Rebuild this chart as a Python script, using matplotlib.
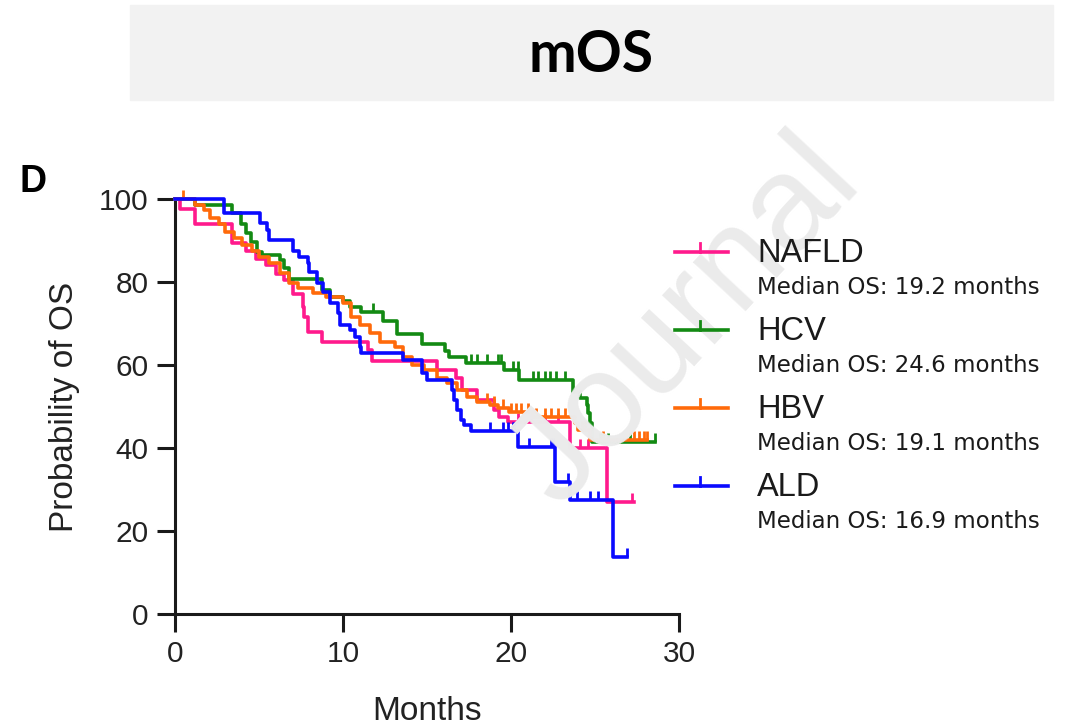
import numpy as np
import matplotlib
matplotlib.use('Agg')
import matplotlib.pyplot as plt
from matplotlib.patches import Rectangle
from matplotlib.lines import Line2D

# Kaplan-Meier step points (months, % surviving)
groups = ['NAFLD', 'HCV', 'HBV', 'ALD']
medians = ['19.2', '24.6', '19.1', '16.9']
colors = ['#FF1A8C', '#138A13', '#FF6A0A', '#0A0AFF']

nafld_t = [0, 0.3, 1.2, 3.4, 4.2, 4.8, 5.4, 6.0, 6.5, 7.0, 7.6, 7.7, 7.9, 8.75,
           11.5, 11.7, 15.6, 16.7, 17.1, 18.0, 19.0, 19.3, 19.8, 23.5, 25.7, 27.3]
nafld_s = [100, 97.5, 94, 89.5, 87.5, 85.5, 84, 82, 80.5, 77, 74, 71.6, 68, 65.5,
           63.6, 61, 58.8, 56.9, 54, 51.6, 49.2, 47.5, 46.3, 40, 27, 27]
nafld_c = [20.4, 21.2, 22.0, 22.8, 24.1, 24.6, 27.2]

hcv_t = [0, 1.2, 3.4, 3.9, 4.2, 4.5, 4.9, 5.2, 6.25, 6.5, 6.8, 8.75, 9.2, 10.0,
         10.4, 11.1, 12.4, 13.2, 14.7, 16.1, 16.3, 17.3, 19.6, 20.5, 23.7, 24.1,
         24.5, 24.6, 24.7, 24.8, 28.6]
hcv_s = [100, 98.5, 96.6, 94, 91.8, 89.6, 87.2, 86.5, 85.3, 83.4, 80.7, 78, 76.4,
         75.5, 74, 72.8, 70.5, 67.5, 65, 63.4, 62, 60.5, 58.8, 56.5, 53.5, 52,
         50.4, 48.5, 46, 41.5, 41.5]
hcv_c = [11.8, 17.6, 18.0, 18.6, 19.2, 19.4, 20.1, 20.4, 21.3, 21.6, 22.0, 22.3,
         22.7, 23.2, 25.3, 25.5, 25.8, 27.1, 28.6]

hbv_t = [0, 1.2, 1.7, 2.1, 2.6, 3.0, 3.5, 4.0, 4.6, 5.0, 5.6, 6.25, 6.8, 7.3, 8.2,
         9.0, 10.0, 10.5, 11.0, 11.6, 12.2, 13.1, 13.6, 14.1, 14.8, 15.6, 16.2,
         16.8, 17.4, 18.0, 18.75, 19.2, 19.9, 21.3, 23.8, 24.0, 24.7, 28.1]
hbv_s = [100, 98.5, 97.3, 95.5, 94, 92, 90.5, 89, 87.5, 86, 84.5, 82.2, 79.8,
         78.5, 77.3, 76.4, 74.9, 71.6, 69.6, 67.7, 65.5, 64.3, 62, 60, 58.8, 56.9,
         55.7, 54, 52.3, 51, 50.4, 49.6, 48.7, 47.5, 46, 44.3, 42, 42]
hbv_c = [0.5, 18.6, 19.0, 19.5, 20.0, 20.3, 20.6, 21.0, 21.5, 22.0, 22.4, 22.8,
         23.2, 24.2, 24.4, 25.5, 27.3, 27.6, 27.9, 28.1]

ald_t = [0, 2.9, 5.05, 5.5, 5.6, 7.0, 7.4, 7.9, 8.0, 8.45, 8.8, 9.2, 9.7, 9.8,
         10.4, 10.7, 11.0, 11.1, 13.6, 14.7, 15.0, 16.5, 16.6, 16.8, 17.0, 17.2,
         17.6, 20.4, 22.6, 23.5, 26.1, 26.9]
ald_s = [100, 96.6, 94.2, 92.5, 90.1, 87.5, 86, 84.6, 82.4, 79.8, 77.6, 74.9,
         72.5, 69.6, 68.4, 66.7, 64.3, 62.9, 61.2, 58, 56.4, 54, 51.6, 49.2, 46.7,
         45.5, 44, 40.2, 31.8, 27.5, 13.7, 13.7]
ald_c = [18.75, 19.5, 19.8, 20.1, 20.2, 21.1, 22.4, 22.5, 23.4, 23.9, 24.7, 25.2,
         26.9]

times = [nafld_t, hcv_t, hbv_t, ald_t]
survs = [nafld_s, hcv_s, hbv_s, ald_s]
cens = [nafld_c, hcv_c, hbv_c, ald_c]

fig = plt.figure(figsize=(10.73, 7.27), dpi=100)
W, H = 1073, 727

# grey title banner
fig.patches.append(Rectangle((130 / W, 1 - 100 / H), 923 / W, 95 / H,
                             transform=fig.transFigure, color='#F2F2F2', zorder=0))
fig.text(591.5 / W, 1 - 55 / H, 'mOS', ha='center', va='center',
         fontsize=41, fontweight='bold', family='Lato')
fig.text(20 / W, 1 - 182 / H, 'D', ha='left', va='center', fontsize=27,
         fontweight='bold', family='Liberation Sans')

# watermark
fig.text(686 / W, 1 - 322 / H, 'Journal', ha='center', va='center', rotation=47,
         fontsize=98, color='#EBEBEB', family='Liberation Sans', zorder=0)

ax = fig.add_axes([175 / W, 1 - 614 / H, 504 / W, 415 / H])
ax.patch.set_alpha(0)

for t, s, c, col in zip(times, survs, cens, colors):
    t = np.array(t)
    s = np.array(s)
    ax.step(t, s, where='post', color=col, lw=2.6, clip_on=False, zorder=3)
    c = np.array(c)
    idx = np.searchsorted(t, c, side='right') - 1
    ax.plot(c, s[idx], ls='none', marker=2, ms=6.5, mew=2.0, color=col,
            clip_on=False, zorder=3)

ax.set_xlim(0, 30)
ax.set_ylim(0, 100)
ax.set_xticks([0, 10, 20, 30])
ax.set_yticks([0, 20, 40, 60, 80, 100])
for sp in ['top', 'right']:
    ax.spines[sp].set_visible(False)
for sp in ['left', 'bottom']:
    ax.spines[sp].set_linewidth(2.2)
    ax.spines[sp].set_color('#1a1a1a')
ax.tick_params(direction='out', length=13, width=2.2, color='#1a1a1a',
               labelsize=21.5, pad=6)
for lab in ax.get_xticklabels() + ax.get_yticklabels():
    lab.set_family('Liberation Sans')
    lab.set_color('#222222')
ax.set_xlabel('Months', fontsize=24, family='Liberation Sans', labelpad=20,
              color='#222222')
ax.set_ylabel('Probability of OS', fontsize=24, family='Liberation Sans',
              labelpad=14, color='#222222')

# legend drawn by hand: big group name, small median line underneath
leg_y = [252, 330, 408, 486]
for g, m, col, y in zip(groups, medians, colors, leg_y):
    fig.add_artist(Line2D([675 / W, 728 / W], [1 - y / H, 1 - y / H],
                          color=col, lw=2.6, transform=fig.transFigure))
    fig.add_artist(Line2D([700 / W, 700 / W], [1 - y / H, 1 - (y - 9) / H],
                          color=col, lw=2.0, transform=fig.transFigure))
    fig.text(757 / W, 1 - (y + 1) / H, g, ha='left', va='center', fontsize=23.5,
             family='Liberation Sans', color='#1a1a1a')
    fig.text(757 / W, 1 - (y + 36) / H, 'Median OS: %s months' % m, ha='left',
             va='center', fontsize=16.5, family='DejaVu Sans', color='#1a1a1a')

fig.savefig('out.png', dpi=100)
